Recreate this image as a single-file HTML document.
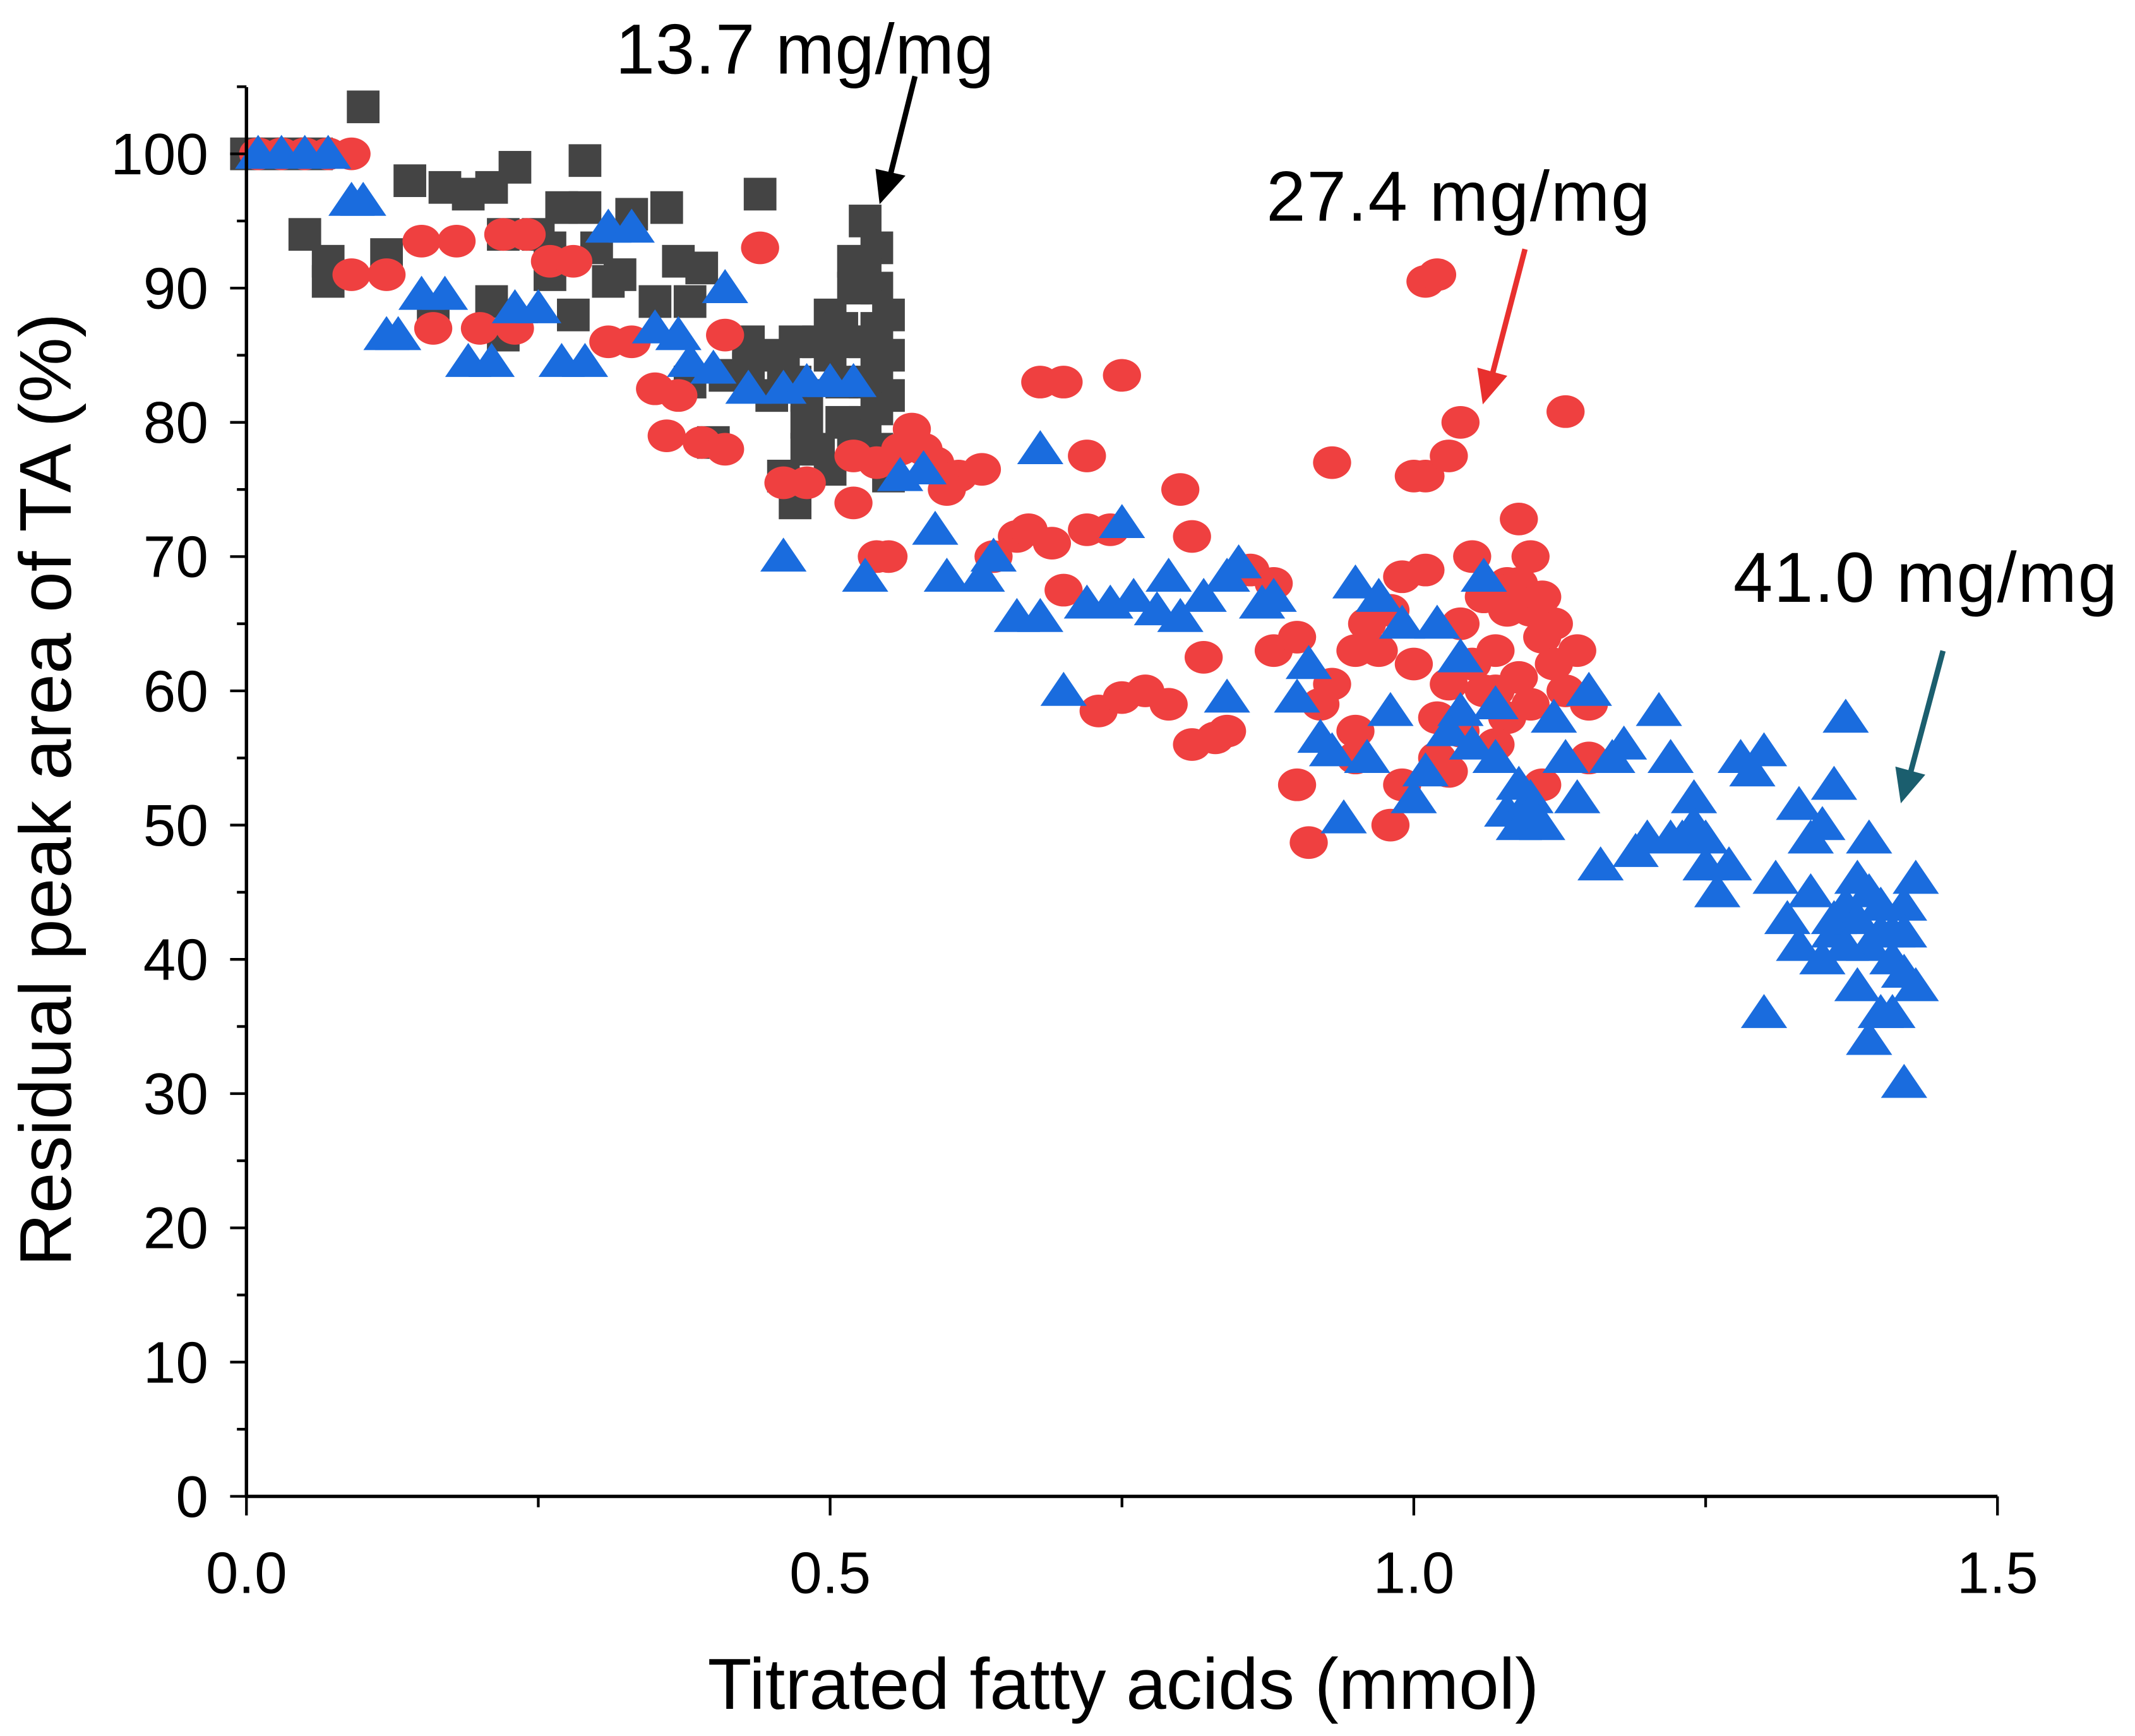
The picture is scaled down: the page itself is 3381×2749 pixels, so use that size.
<!DOCTYPE html>
<html><head><meta charset="utf-8"><style>
html,body{margin:0;padding:0;background:#fff;}
svg{display:block;font-family:"Liberation Sans",Arial,sans-serif;}
</style></head><body>
<svg id="chart" width="3381" height="2749" viewBox="0 0 1568 1275" preserveAspectRatio="none" xmlns="http://www.w3.org/2000/svg">
<g id="marks"></g>
<g id="axes"></g>
<text x="0" y="0" transform="translate(52,580) rotate(-90)" text-anchor="middle" font-size="54">Residual peak area of TA (%)</text>
<text x="825" y="1255" text-anchor="middle" font-size="53">Titrated fatty acids (mmol)</text>
<text x="452" y="54" font-size="52" textLength="278">13.7 mg/mg</text>
<text x="930" y="162" font-size="52" textLength="282">27.4 mg/mg</text>
<text x="1273" y="442" font-size="52" textLength="282">41.0 mg/mg</text>
<g><line x1="672" y1="56" x2="654" y2="128" stroke="#000" stroke-width="4"/><polygon points="646,150 643,124 665,129" fill="#000"/></g>
<g><line x1="1120" y1="183" x2="1096" y2="275" stroke="#e8302e" stroke-width="4"/><polygon points="1089,297 1085,270 1107,276" fill="#e8302e"/></g>
<g><line x1="1427" y1="478" x2="1403" y2="568" stroke="#1b5e6e" stroke-width="4"/><polygon points="1396,590 1392,563 1414,569" fill="#1b5e6e"/></g>
</svg>
<script>
const xTicks=[0,0.5,1.0,1.5];
const xTickLabels=["0.0","0.5","1.0","1.5"];
const yTicks=[0,10,20,30,40,50,60,70,80,90,100];
const grayX=[0,0.02,0.04,0.06,0.10,0.05,0.07,0.07,0.14,0.17,0.19,0.21,0.23,0.12,0.16,0.21,0.22,0.25,0.26,0.27,0.29,0.29,0.30,0.32,0.31,0.33,0.36,0.37,0.38,0.39,0.41,0.38,0.40,0.43,0.44,0.43,0.45,0.46,0.47,0.48,0.49,0.50,0.48,0.49,0.50,0.51,0.52,0.52,0.53,0.54,0.54,0.55,0.53,0.54,0.55,0.53,0.54,0.55,0.52,0.51,0.26,0.28,0.22,0.35,0.45,0.46,0.47,0.53,0.54,0.55,0.52,0.53,0.54,0.50,0.51,0.47,0.48];
const grayY=[100,100,100,100,103.5,94,92,90.5,98,97.5,97,97.5,99,92.5,88,89,86.5,94,93,96,96,99.5,93,91,90.5,95.5,96,92,89,91.5,83.5,83,78.5,86,97,84,85,76,74,80,78,76.5,82,86,88,87,90,92,95,93,90,88,86,84,82,80,78,76,79,83,91,88,94,89,82,84,86,91,87,85,86,83,81,85,80,83,78];
const redX=[0.01,0.03,0.05,0.07,0.09,0.09,0.12,0.15,0.18,0.16,0.20,0.23,0.22,0.24,0.26,0.28,0.31,0.33,0.35,0.37,0.36,0.39,0.41,0.41,0.44,0.46,0.48,0.52,0.52,0.54,0.56,0.57,0.58,0.59,0.61,0.63,0.54,0.55,0.60,0.64,0.66,0.67,0.69,0.68,0.70,0.72,0.75,0.70,0.72,0.74,0.73,0.75,0.77,0.79,0.80,0.81,0.82,0.81,0.83,0.84,0.86,0.88,0.88,0.90,0.91,0.90,0.93,0.92,0.93,0.95,0.95,0.97,0.96,0.98,0.99,1.00,1.01,1.02,1.03,0.98,1.00,1.01,1.03,1.04,1.01,1.02,1.04,1.05,1.06,1.07,1.08,1.08,1.09,1.10,1.10,1.11,1.12,1.13,1.12,1.14,1.13,1.15,1.15,1.11,1.08,1.06,1.05,1.04,1.02,1.09,1.10,1.07,1.03,0.99,0.95,1.09,1.11,1.07];
const redY=[100,100,100,100,100,91,91,93.5,93.5,87,87,87,94,94,92,92,86,86,82.5,82,79,78.5,78,86.5,93,75.5,75.5,77.5,74,77,78,79.5,78,77,76,76.5,70,70,75,70,71.5,72,71,83,83,77.5,83.5,67.5,72,72,58.5,59.5,60,59,75,71.5,62.5,56,56.5,57,69,68,63,64,48.7,53,77,59,60.5,55,57,63,65,66,68.5,62,69,58,60.5,50,76,76,77.5,80,90.5,91,65,70,67,63,66,68,72.8,70,66,64,62,60,65,63,80.8,59,55,53,58,60,62,57,55,61,59,56,54,53,63,68,67,60];
const blueX=[0.01,0.03,0.05,0.07,0.09,0.10,0.12,0.13,0.15,0.17,0.19,0.21,0.23,0.25,0.27,0.29,0.31,0.33,0.35,0.37,0.38,0.40,0.41,0.43,0.46,0.48,0.50,0.52,0.46,0.53,0.56,0.58,0.59,0.60,0.63,0.64,0.66,0.68,0.68,0.70,0.72,0.74,0.75,0.76,0.78,0.79,0.80,0.82,0.84,0.85,0.84,0.87,0.88,0.90,0.91,0.92,0.93,0.94,0.95,0.97,0.96,0.98,0.99,1.00,1.01,1.02,1.04,1.04,1.05,1.06,1.07,1.08,1.09,1.10,1.11,1.12,1.14,1.15,1.16,1.17,1.18,1.19,1.20,1.21,1.22,1.23,1.24,1.25,1.26,1.27,1.28,1.29,1.30,1.31,1.32,1.30,1.33,1.34,1.35,1.36,1.37,1.36,1.37,1.38,1.38,1.39,1.40,1.39,1.40,1.41,1.42,1.43,1.41,1.42,1.43,1.42,1.40,1.39,1.33,1.34,1.35,1.24,1.25,1.22,1.13,1.07,1.03,1.36,1.38,1.41,1.42,1.37,1.39,1.09,1.10];
const blueY=[100,100,100,100,96.5,96.5,86.5,86.5,89.5,89.5,84.5,84.5,88.5,88.5,84.5,84.5,94.5,94.5,87,86.5,84.5,84,90,82.5,82.5,83,83,83,70,68.5,76,76.5,72,68.5,68.5,70,65.5,65.5,78,60,66.5,66.5,72.5,67,66,68.5,65.5,67,68.5,69.5,59.5,66.5,67,59.5,62,56.5,55.5,50.5,68,67,55,58.5,65,52,54,65,62.5,58.5,56,68.5,55,51,50,52,50,58,52,60,47,55,56,48,49,58.5,55,49,52,49,45,47,55,54,55.5,46,43,36,51.5,45,40,42,44,53,58,46,38,34,36,49,42,40,44,46,36,30.8,38,42,44,41,41,49,50,50,47,49,55,59,57,43,43,42,39,41,45,53,51];
const NS="http://www.w3.org/2000/svg";
const X0=181,X1=1467,Y0=1099,Y100=113;
function sx(v){return X0+(X1-X0)*v/1.5;}
function sy(v){return Y0-(Y0-Y100)*v/100;}
const marks=document.getElementById('marks');
const axes=document.getElementById('axes');
function mk(tag,attrs,parent){const e=document.createElementNS(NS,tag);for(const k in attrs)e.setAttribute(k,attrs[k]);parent.appendChild(e);return e;}
for(let i=0;i<grayX.length;i++){
  const el=mk('rect',{x:sx(grayX[i])-12,y:sy(grayY[i])-12,width:24,height:24,fill:'#444444'},marks);
  
  
}
for(let i=0;i<redX.length;i++){
  const el=mk('ellipse',{cx:sx(redX[i]),cy:sy(redY[i]),rx:14,ry:12,fill:'#ef4040'},marks);
  
  
}
for(let i=0;i<blueX.length;i++){
  const cx=sx(blueX[i]),cy=sy(blueY[i]);
  const el=mk('polygon',{points:`${cx},${cy-14} ${cx+17},${cy+11} ${cx-17},${cy+11}`,fill:'#1a6cde'},marks);
  
  
}
let a=mk('line',{x1:X0,y1:64,x2:X0,y2:Y0+1,stroke:'#000','stroke-width':2.5},axes);


a=mk('line',{x1:X0-1,y1:Y0,x2:X1,y2:Y0,stroke:'#000','stroke-width':2.5},axes);


for(let v=0;v<=105;v+=5){
  const major=v%10===0;
  const t=mk('line',{x1:X0-(major?12:7),y1:sy(v),x2:X0,y2:sy(v),stroke:'#000','stroke-width':2},axes);
  
  
}
for(const v of yTicks){
  const t=mk('text',{x:X0-28,y:sy(v)+15,'text-anchor':'end','font-size':43},axes);
  t.textContent=String(v);
  
  
}
for(let v=0;v<=1.5001;v+=0.25){
  const major=Math.abs(v*2-Math.round(v*2))<1e-6;
  const t=mk('line',{x1:sx(v),y1:Y0,x2:sx(v),y2:Y0+(major?14:8),stroke:'#000','stroke-width':2},axes);
  
  
}
for(let i=0;i<xTicks.length;i++){
  const t=mk('text',{x:sx(xTicks[i]),y:1170,'text-anchor':'middle','font-size':43},axes);
  t.textContent=xTickLabels[i];
  
  
}
</script>
</body></html>
